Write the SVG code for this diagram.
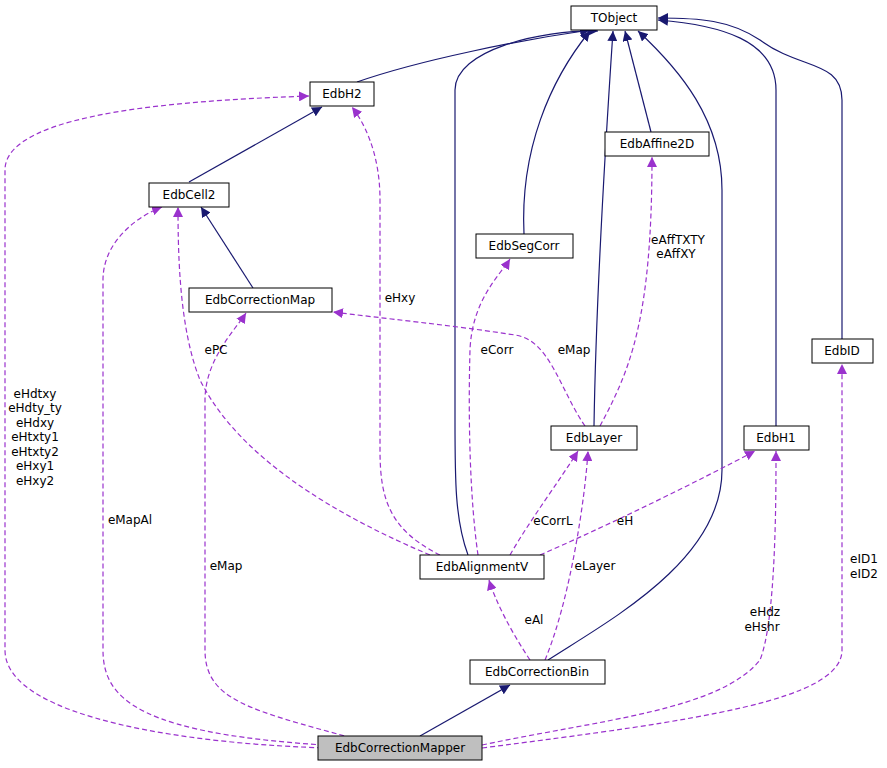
<svg xmlns="http://www.w3.org/2000/svg" width="887" height="768" viewBox="0 0 887 768">
<style>
text{font-family:"DejaVu Sans",sans-serif;font-size:12px;fill:#000}
.n rect{fill:#fff;stroke:#000;stroke-width:1}
.n text{text-anchor:middle}
.i{fill:none;stroke:#191970;stroke-width:1.2}
.c{fill:none;stroke:#9a32cd;stroke-width:1.2;stroke-dasharray:5,3}
.l{text-anchor:middle}
</style>
<defs>
<marker id="ai" viewBox="0 0 10 10" refX="10" refY="5" markerWidth="10" markerHeight="10" markerUnits="userSpaceOnUse" orient="auto"><path d="M0,0L10,5L0,10z" fill="#191970"/></marker>
<marker id="ac" viewBox="0 0 10 10" refX="10" refY="5" markerWidth="10" markerHeight="10" markerUnits="userSpaceOnUse" orient="auto"><path d="M0,0L10,5L0,10z" fill="#9a32cd"/></marker>
</defs>
<rect width="887" height="768" fill="#fff"/>
<g id="connectors">
<path class="i" marker-end="url(#ai)" d="M357,82 C420,60 520,40 590,30"/>
<path class="i" marker-end="url(#ai)" d="M189,182 L322,107"/>
<path class="i" marker-end="url(#ai)" d="M253,288 L201,207"/>
<path class="i" marker-end="url(#ai)" d="M524,234 C520,150 550,80 590,31"/>
<path class="i" marker-end="url(#ai)" d="M651,132 L625,31"/>
<path class="i" marker-end="url(#ai)" d="M594,426 C596,300 605,150 613,31"/>
<path class="i" marker-end="url(#ai)" d="M468,555 C455,520 455,480 455,420 L455,90 C455,50 540,30 598,31"/>
<path class="i" marker-end="url(#ai)" d="M548,660 C610,620 722,560 722,470 L722,190 C722,120 680,70 638,31"/>
<path class="i" marker-end="url(#ai)" d="M776,426 L776,90 C776,40 720,25 658,20"/>
<path class="i" marker-end="url(#ai)" d="M842,339 L842,100 C842,60 800,70 760,40 C730,20 700,18 658,18"/>
<path class="i" marker-end="url(#ai)" d="M420,736 L510,685"/>
<path class="c" marker-end="url(#ac)" d="M330,748 C200,745 5,720 5,650 L5,170 C5,110 200,100 309,96"/>
<path class="c" marker-end="url(#ac)" d="M340,746 C140,735 103,700 103,650 L103,280 C103,240 140,215 162,207"/>
<path class="c" marker-end="url(#ac)" d="M352,738 C250,710 205,700 205,650 L205,400 C205,360 235,330 246,313"/>
<path class="c" marker-end="url(#ac)" d="M585,426 C560,390 550,340 515,335 C450,325 380,318 333,312"/>
<path class="c" marker-end="url(#ac)" d="M430,555 C300,500 230,440 200,380 C180,330 178,260 178,207"/>
<path class="c" marker-end="url(#ac)" d="M440,555 C390,530 380,500 380,450 L380,200 C380,150 362,120 352,107"/>
<path class="c" marker-end="url(#ac)" d="M478,555 C470,500 468,420 470,350 C472,300 500,275 510,259"/>
<path class="c" marker-end="url(#ac)" d="M600,426 C630,370 652,320 652,157"/>
<path class="c" marker-end="url(#ac)" d="M510,555 C530,520 560,480 578,451"/>
<path class="c" marker-end="url(#ac)" d="M540,555 C620,520 700,480 755,451"/>
<path class="c" marker-end="url(#ac)" d="M545,660 C570,600 585,500 588,451"/>
<path class="c" marker-end="url(#ac)" d="M530,660 C510,630 495,600 489,580"/>
<path class="c" marker-end="url(#ac)" d="M482,745 C600,720 720,710 760,660 C776,620 776,500 776,451"/>
<path class="c" marker-end="url(#ac)" d="M482,748 C700,720 842,700 842,650 L842,364"/>
</g>
<g id="labels">
<text class="l" x="35" y="398">eHdtxy</text>
<text class="l" x="35" y="412">eHdty_ty</text>
<text class="l" x="35" y="427">eHdxy</text>
<text class="l" x="35" y="441">eHtxty1</text>
<text class="l" x="35" y="456">eHtxty2</text>
<text class="l" x="35" y="470">eHxy1</text>
<text class="l" x="35" y="485">eHxy2</text>
<text class="l" x="130" y="524">eMapAl</text>
<text class="l" x="226" y="570">eMap</text>
<text class="l" x="216" y="354">ePC</text>
<text class="l" x="400" y="302">eHxy</text>
<text class="l" x="497" y="354">eCorr</text>
<text class="l" x="574" y="354">eMap</text>
<text class="l" x="678" y="244">eAffTXTY</text>
<text class="l" x="676" y="258">eAffXY</text>
<text class="l" x="553" y="525">eCorrL</text>
<text class="l" x="625" y="525">eH</text>
<text class="l" x="595" y="570">eLayer</text>
<text class="l" x="534" y="624">eAl</text>
<text class="l" x="765" y="616">eHdz</text>
<text class="l" x="762" y="631">eHshr</text>
<text class="l" x="864" y="563">eID1</text>
<text class="l" x="864" y="578">eID2</text>
</g>
<g id="TObject" class="n"><rect x="571" y="6" width="86" height="24"/><text x="614" y="22">TObject</text></g>
<g id="EdbH2" class="n"><rect x="310" y="82" width="64" height="24"/><text x="342" y="98">EdbH2</text></g>
<g id="EdbCell2" class="n"><rect x="149" y="183" width="80" height="24"/><text x="189" y="199">EdbCell2</text></g>
<g id="EdbAffine2D" class="n"><rect x="605" y="132" width="104" height="24"/><text x="657" y="148">EdbAffine2D</text></g>
<g id="EdbSegCorr" class="n"><rect x="476" y="234" width="97" height="24"/><text x="524" y="250">EdbSegCorr</text></g>
<g id="EdbCorrectionMap" class="n"><rect x="189" y="288" width="143" height="24"/><text x="260" y="304">EdbCorrectionMap</text></g>
<g id="EdbID" class="n"><rect x="812" y="339" width="61" height="24"/><text x="842" y="355">EdbID</text></g>
<g id="EdbLayer" class="n"><rect x="551" y="426" width="86" height="24"/><text x="594" y="442">EdbLayer</text></g>
<g id="EdbH1" class="n"><rect x="744" y="426" width="65" height="24"/><text x="776" y="442">EdbH1</text></g>
<g id="EdbAlignmentV" class="n"><rect x="420" y="555" width="124" height="24"/><text x="482" y="571">EdbAlignmentV</text></g>
<g id="EdbCorrectionBin" class="n"><rect x="470" y="660" width="135" height="24"/><text x="537" y="676">EdbCorrectionBin</text></g>
<g id="EdbCorrectionMapper" class="n"><rect x="318" y="736" width="164" height="24" style="fill:#bfbfbf"/><text x="400" y="752">EdbCorrectionMapper</text></g>
</svg>
